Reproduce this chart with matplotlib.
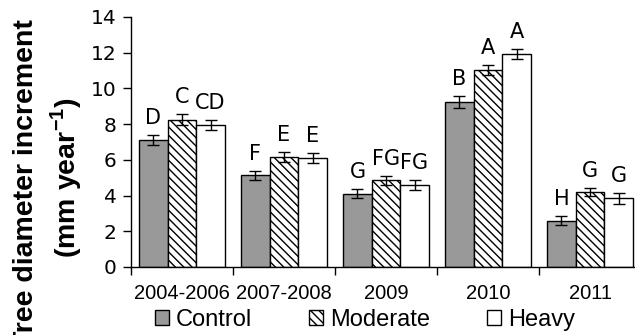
import matplotlib
matplotlib.use("Agg")
import matplotlib.pyplot as plt
import numpy as np

periods = ["2004-2006", "2007-2008", "2009", "2010", "2011"]
treatments = ["Control", "Moderate", "Heavy"]
control = [7.1, 5.15, 4.1, 9.25, 2.6]
moderate = [8.25, 6.15, 4.85, 11.05, 4.2]
heavy = [7.95, 6.1, 4.6, 11.95, 3.85]
control_err = [0.28, 0.25, 0.25, 0.32, 0.27]
moderate_err = [0.3, 0.28, 0.25, 0.28, 0.25]
heavy_err = [0.28, 0.28, 0.3, 0.28, 0.3]
control_letters = ["D", "F", "G", "B", "H"]
moderate_letters = ["C", "E", "FG", "A", "G"]
heavy_letters = ["CD", "E", "FG", "A", "G"]

plt.rcParams["font.family"] = ["DejaVu Sans"]
plt.rcParams["hatch.linewidth"] = 1.0
plt.rcParams["mathtext.fontset"] = "custom"
plt.rcParams["mathtext.rm"] = "Liberation Sans"
plt.rcParams["mathtext.bf"] = "Liberation Sans:bold"

fig = plt.figure(figsize=(6.35, 3.35), dpi=100)
ax = fig.add_axes([131 / 635, 1 - 267 / 335, 510 / 635, 250 / 335])

x = np.arange(len(periods)) + 0.5
w = 0.28
series = [
    (control, control_err, control_letters, dict(color="#999999")),
    (moderate, moderate_err, moderate_letters, dict(color="white", hatch="\\\\\\\\")),
    (heavy, heavy_err, heavy_letters, dict(color="white")),
]
handles = []
for i, (vals, errs, letters, style) in enumerate(series):
    xs = x + (i - 1) * w
    b = ax.bar(xs, vals, w, edgecolor="black", linewidth=1.0, label=treatments[i], **style)
    handles.append(b)
    ax.errorbar(xs, vals, yerr=errs, fmt="none", ecolor="black", elinewidth=1.0,
                capsize=4, capthick=1.0)
    # significance letters above each error bar
    for xi, v, e, lab in zip(xs, vals, errs, letters):
        ax.annotate(lab, (xi, v + e), xytext=(0, 5), textcoords="offset points",
                    ha="center", va="bottom", fontsize=15)

ax.set_xlim(0, len(periods))
ax.set_ylim(0, 14)
ax.set_yticks(range(0, 15, 2))
ax.set_xticks(x)
ax.set_xticklabels(periods, family="Liberation Sans", fontsize=14.5)
ax.set_xticks(np.arange(len(periods) + 1), minor=True)
ax.tick_params(axis="x", which="major", length=0, pad=12)
ax.tick_params(axis="x", which="minor", length=6, width=1, direction="out")
ax.tick_params(axis="y", length=5.5, width=1, labelsize=14.5, pad=5)
ax.spines["top"].set_visible(False)
ax.spines["right"].set_visible(False)
ax.spines["left"].set_linewidth(1)
ax.spines["bottom"].set_linewidth(1)

fig.text(25.6 / 635, 0.452, "Tree diameter increment", rotation=90, ha="center",
         va="center", fontsize=20.5, fontweight="bold", family="Liberation Sans")
fig.text(66.5 / 635, 0.469, "(mm year$^{\\mathbf{-1}}$)", rotation=90, ha="center",
         va="center", fontsize=20.5, fontweight="bold", family="Liberation Sans")

fig.legend(handles, treatments, loc="center", bbox_to_anchor=(365 / 635, 1 - 320 / 335),
           ncol=3, frameon=False, prop={"family": "Liberation Sans", "size": 17},
           handlelength=0.6, handleheight=0.6, handletextpad=0.3,
           columnspacing=2.4, borderpad=0, borderaxespad=0)

fig.savefig("out.png", dpi=100)
